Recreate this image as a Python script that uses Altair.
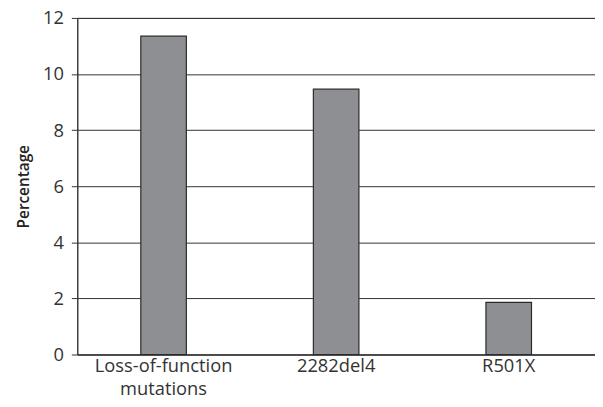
import altair as alt
import pandas as pd

categories = ["Loss-of-function\nmutations", "2282del4", "R501X"]
values = [11.35, 9.46, 1.86]

df = pd.DataFrame({"cat": categories, "val": values})

font = "Open Sans"

chart = alt.Chart(df).mark_bar(
    color="#8e8f93", stroke="#2b2b2b", strokeWidth=1.2
).encode(
    x=alt.X("cat:N", sort=categories,
            scale=alt.Scale(paddingInner=0.736, paddingOuter=0.368),
            axis=alt.Axis(title=None, labelAngle=0, labelExpr="split(datum.label, '\\n')",
                          labelFont=font, labelFontSize=18.5, labelColor="#333",
                          ticks=False, domainColor="#333", labelPadding=2,
                          labelLineHeight=23)),
    y=alt.Y("val:Q", scale=alt.Scale(domain=[0, 12]),
            axis=alt.Axis(title="Percentage", values=[0, 2, 4, 6, 8, 10, 12],
                          titleFont=font, titleFontSize=15.5, titleFontWeight=600,
                          titleColor="#222", titlePadding=11,
                          labelFont=font, labelFontSize=18.5, labelColor="#333",
                          tickSize=6, tickColor="#333", domainColor="#333",
                          grid=True, gridColor="#333", gridOpacity=1, labelPadding=8)),
).properties(
    width=523, height=340,
    autosize=alt.AutoSizeParams(type="none"),
    padding={"left": 70, "top": 8, "right": 0, "bottom": 50},
).configure_view(stroke="#333", strokeWidth=1)

chart.save("out.html", embed_options={"renderer": "svg", "actions": False})
